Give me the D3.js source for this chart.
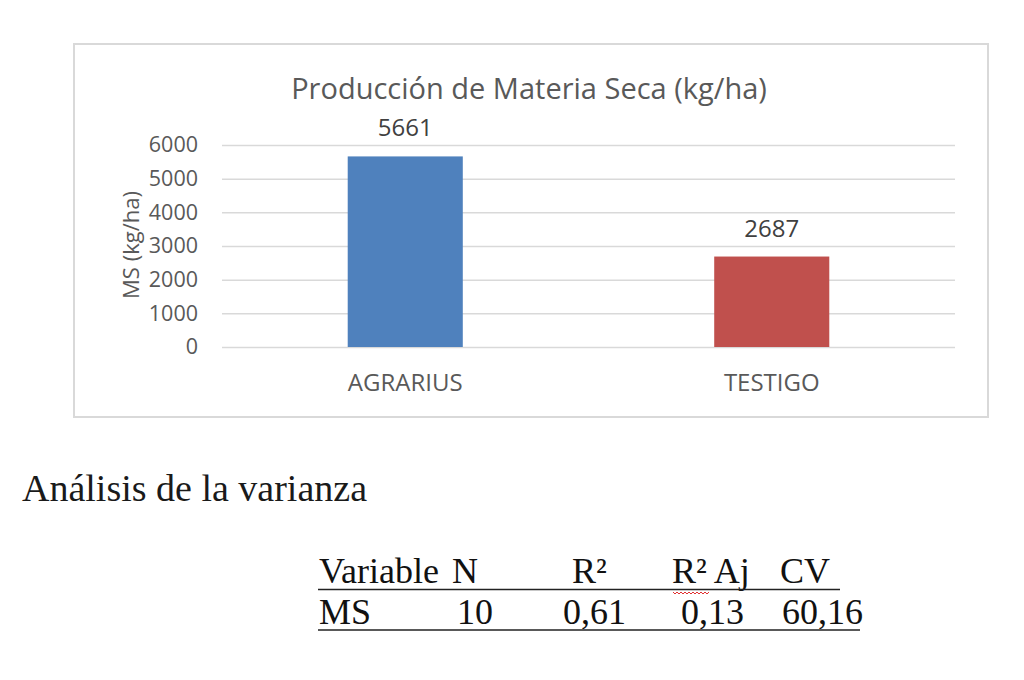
<!DOCTYPE html>
<html>
<head>
<meta charset="utf-8">
<script src="https://cdn.jsdelivr.net/npm/d3@7"></script>
<style>
  html, body { margin: 0; padding: 0; background: #fff; }
  svg { display: block; }
</style>
</head>
<body>
<div id="chart"></div>
<script>
// chart data
var categories = ['AGRARIUS', 'TESTIGO'];
var msValues = [5661, 2687];
var barColors = ['#4F81BD', '#C0504D'];
var yTicks = [0, 1000, 2000, 3000, 4000, 5000, 6000];

// ANOVA table text
var tableHeader = ['Variable', 'N', 'R\u00B2', 'R\u00B2 Aj', 'CV'];
var tableRow = ['MS', '10', '0,61', '0,13', '60,16'];

var W = 1024, H = 680;
var box = {x: 74, y: 44, w: 914, h: 373};
var plot = {left: 222, right: 955, top: 145, bottom: 347};
var chartFont = '"Open Sans", "Liberation Sans", sans-serif';
var serifFont = '"Liberation Serif", "DejaVu Serif", serif';
var textGray = '#595959';

var svg = d3.select('#chart').append('svg')
            .attr('width', W)
            .attr('height', H);

// chart frame
svg.append('rect')
   .attr('x', box.x).attr('y', box.y)
   .attr('width', box.w).attr('height', box.h)
   .attr('fill', '#fff')
   .attr('stroke', '#d9d9d9')
   .attr('stroke-width', 2);

svg.append('text')
   .attr('x', 529).attr('y', 99)
   .attr('text-anchor', 'middle')
   .attr('font-family', chartFont)
   .attr('font-size', 29)
   .attr('fill', textGray)
   .text('Producción de Materia Seca (kg/ha)');

var x = d3.scaleBand()
          .domain(categories)
          .range([plot.left, plot.right])
          .paddingInner(0.686)
          .paddingOuter(0.343);

var y = d3.scaleLinear()
          .domain([0, 6000])
          .range([plot.bottom, plot.top]);

// y axis with gridlines
var yAxis = svg.append('g')
               .attr('transform', 'translate(' + plot.left + ',0)')
               .call(d3.axisLeft(y)
                       .tickValues(yTicks)
                       .tickSize(-(plot.right - plot.left))
                       .tickPadding(24)
                       .tickFormat(d3.format('d')));
yAxis.select('.domain').remove();
yAxis.selectAll('.tick line').attr('stroke', '#d9d9d9').attr('stroke-width', 1.5);
yAxis.selectAll('.tick text')
     .attr('font-family', chartFont)
     .attr('font-size', 21.5)
     .attr('fill', textGray);

svg.append('text')
   .attr('transform', 'translate(139,245) rotate(-90)')
   .attr('text-anchor', 'middle')
   .attr('font-family', chartFont)
   .attr('font-size', 22)
   .attr('fill', textGray)
   .text('MS (kg/ha)');

// bars
svg.append('g').selectAll('rect')
   .data(msValues)
   .enter().append('rect')
     .attr('x', function(d, i) { return x(categories[i]); })
     .attr('y', function(d) { return y(d); })
     .attr('width', x.bandwidth())
     .attr('height', function(d) { return y(0) - y(d); })
     .attr('fill', function(d, i) { return barColors[i]; });

// data labels
svg.append('g').selectAll('text')
   .data(msValues)
   .enter().append('text')
     .attr('x', function(d, i) { return x(categories[i]) + x.bandwidth() / 2; })
     .attr('y', function(d) { return y(d) - 20; })
     .attr('text-anchor', 'middle')
     .attr('font-family', chartFont)
     .attr('font-size', 24)
     .attr('fill', '#404040')
     .text(function(d) { return d; });

// category axis
var xAxis = svg.append('g')
               .attr('transform', 'translate(0,' + plot.bottom + ')')
               .call(d3.axisBottom(x).tickSize(0).tickPadding(27));
xAxis.select('.domain').remove();
xAxis.selectAll('.tick text')
     .attr('font-family', chartFont)
     .attr('font-size', 24)
     .attr('fill', textGray);

// ANOVA section
svg.append('text')
   .attr('x', 22).attr('y', 501)
   .attr('font-family', serifFont)
   .attr('font-size', 38)
   .attr('fill', '#1a1a1a')
   .text('Análisis de la varianza');

var headerX = [319, 452, 572, 672, 780];
var rowX = [319, 457, 563, 681, 782];

svg.append('g').selectAll('text')
   .data(tableHeader)
   .enter().append('text')
     .attr('x', function(d, i) { return headerX[i]; })
     .attr('y', 583)
     .attr('font-family', serifFont)
     .attr('font-size', 36)
     .attr('fill', '#111')
     .text(function(d) { return d; });

svg.append('g').selectAll('text')
   .data(tableRow)
   .enter().append('text')
     .attr('x', function(d, i) { return rowX[i]; })
     .attr('y', 624)
     .attr('font-family', serifFont)
     .attr('font-size', 36)
     .attr('fill', '#111')
     .text(function(d) { return d; });

svg.append('line')
   .attr('x1', 318).attr('x2', 840)
   .attr('y1', 589.5).attr('y2', 589.5)
   .attr('stroke', '#222').attr('stroke-width', 1.5);
svg.append('line')
   .attr('x1', 318).attr('x2', 860)
   .attr('y1', 630).attr('y2', 630)
   .attr('stroke', '#222').attr('stroke-width', 1.5);

// spell-check squiggle under R² Aj
var squiggle = d3.path();
squiggle.moveTo(673, 592);
for (var sx = 673; sx < 709; sx += 4) {
    squiggle.lineTo(sx + 2, 594);
    squiggle.lineTo(sx + 4, 592);
}
svg.append('path')
   .attr('d', squiggle.toString())
   .attr('fill', 'none')
   .attr('stroke', '#e03030')
   .attr('stroke-width', 1);
</script>
</body>
</html>
